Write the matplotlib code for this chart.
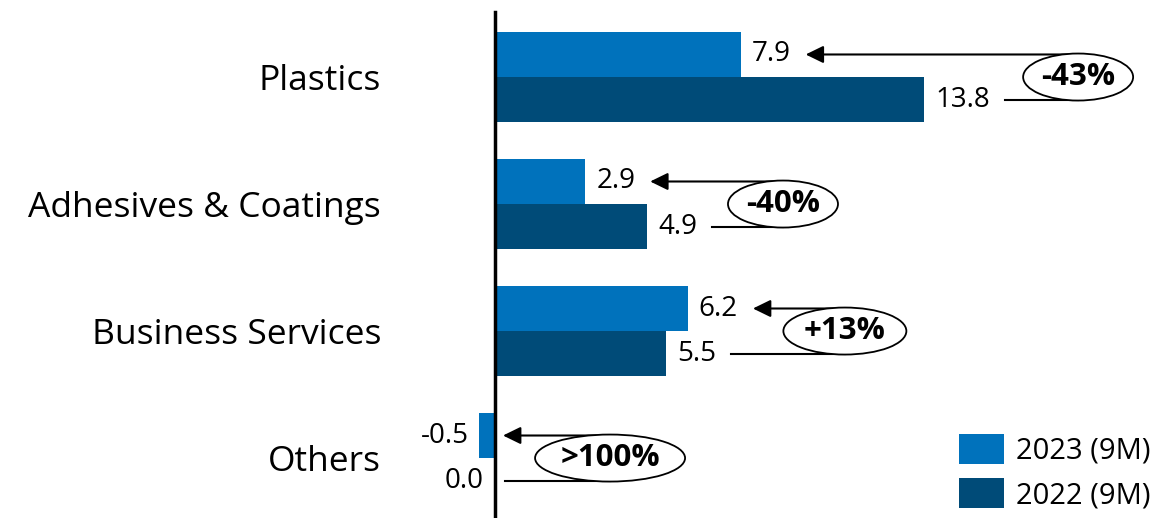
import matplotlib
matplotlib.use("Agg")
import matplotlib.pyplot as plt
from matplotlib.patches import Ellipse

plt.rcParams['font.family'] = ['Open Sans', 'DejaVu Sans']

categories = ['Plastics', 'Adhesives & Coatings', 'Business Services', 'Others']
v2023 = [7.9, 2.9, 6.2, -0.5]
v2022 = [13.8, 4.9, 5.5, 0.0]
changes = ['-43%', '-40%', '+13%', '>100%']
series_names = ['2023 (9M)', '2022 (9M)']

c23 = '#0072BC'
c22 = '#004B78'

W, H = 1157, 518
fig = plt.figure(figsize=(W / 100, H / 100), dpi=100)
# axes: px 440 .. 1157 horizontally, full height
ax = fig.add_axes([440 / W, 0, 1 - 440 / W, 1 - 12 / H])
ppu = 31.1  # pixels per unit
ax.set_xlim(-(495 - 440) / ppu, (1157 - 495) / ppu)
ax.set_ylim(3.472, -0.512)

bh = 0.355
y = list(range(len(categories)))
ax.barh([i - bh / 2 for i in y], v2023, height=bh, color=c23, label=series_names[0])
ax.barh([i + bh / 2 for i in y], v2022, height=bh, color=c22, label=series_names[1])

for s in ['top', 'right', 'bottom']:
    ax.spines[s].set_visible(False)
ax.spines['left'].set_position(('data', 0))
ax.spines['left'].set_linewidth(2.5)
ax.set_xticks([])
ax.set_yticks(y)
ax.set_yticklabels(categories, fontsize=25.5)
ax.tick_params(axis='y', length=0, pad=114 * 0.72)

lab_fs = 20
off = 11 / ppu
txt23, txt22 = [], []
for i in y:
    for v, yy, store in [(v2023[i], i - bh / 2, txt23), (v2022[i], i + bh / 2, txt22)]:
        if v > 0:
            t = ax.text(v + off, yy, f'{v:.1f}', ha='left', va='center', fontsize=lab_fs)
        else:
            t = ax.text(min(v, 0) - off, yy, f'{v:.1f}', ha='right', va='center', fontsize=lab_fs)
        store.append(t)

fig.canvas.draw()
inv = ax.transData.inverted()
# ellipse placement (offset right of the longer bar, width in px)
ell_dx = [4.95, 4.36, 5.05, 3.7]
ell_w = [110, 110, 123, 150]
gap = 15 / ppu
for i in y:
    a, b = v2023[i], v2022[i]
    if a > 0:
        tip = inv.transform(txt23[i].get_window_extent())[1][0] + gap
    else:
        tip = 0 + 8 / ppu
    if b > 0:
        start = inv.transform(txt22[i].get_window_extent())[1][0] + gap
    else:
        start = 0 + 10 / ppu
    cx = max(a, b, 0) + ell_dx[i]
    ax.annotate('', xy=(tip, i - bh / 2), xytext=(cx, i - bh / 2),
                arrowprops=dict(arrowstyle='-|>,head_length=0.45,head_width=0.22',
                                color='black', lw=1.5,
                                mutation_scale=24, shrinkA=0, shrinkB=0))
    ax.plot([start, cx], [i + bh / 2, i + bh / 2], color='black', lw=1.5)
    ax.add_patch(Ellipse((cx, i), ell_w[i] / ppu, 47 / 127, facecolor='white',
                         edgecolor='black', lw=1.3, zorder=5))
    ax.text(cx, i, changes[i], ha='center', va='center', fontsize=22.5,
            fontweight='bold', zorder=6)

leg = fig.legend(loc='lower right', bbox_to_anchor=(1150 / W, 8 / H), frameon=False,
                 fontsize=21, handlelength=1.55, handleheight=1.2,
                 labelspacing=0.42, handletextpad=0.4, borderaxespad=0, borderpad=0)

fig.savefig('out.png', dpi=100)
